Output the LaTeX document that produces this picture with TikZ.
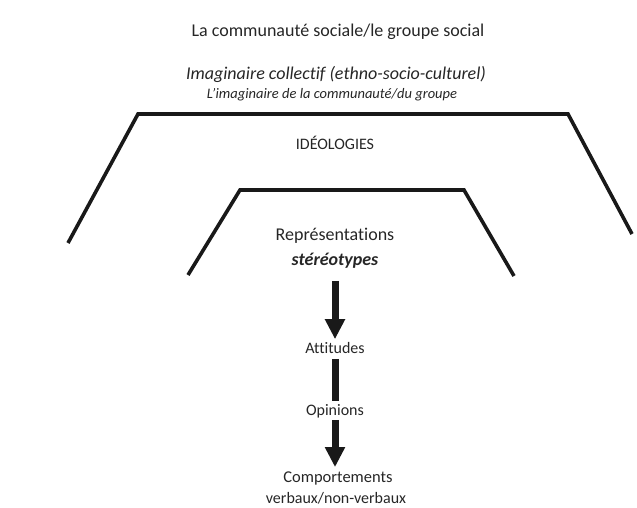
\documentclass[tikz,border=0pt]{standalone}
\usepackage{fontspec}
\setmainfont[Ligatures=NoCommon]{Carlito}
\usetikzlibrary{arrows.meta}

\begin{document}
\begin{tikzpicture}[x=1pt,y=-1pt]
  \tikzstyle{label}=[inner sep=0pt,text=black!85]
  \tikzstyle{wall}=[line width=3.6pt,black!90]
  \tikzstyle{roof}=[line width=4.6pt,black!90]
  \tikzstyle{bar}=[line width=7pt,black!90]
  \tikzstyle{flow}=[bar,-{Triangle[width=19pt,length=20pt]}]
  \useasboundingbox (0,0) rectangle (637,508);

  \node[label, font=\fontsize{18}{20}\selectfont] (communaute) at (338,32) {La communauté sociale/le groupe social};
  \node[label, font=\fontsize{18}{20}\selectfont\itshape] (imaginaire) at (336,74) {Imaginaire collectif (ethno-socio-culturel)};
  \node[label, font=\fontsize{14.5}{16}\selectfont\itshape] (groupe) at (332,95) {L’imaginaire de la communauté/du groupe};

  \coordinate (oTL) at (138,114);
  \coordinate (oTR) at (568,114);
  \coordinate (oBL) at (68,243);
  \coordinate (oBR) at (632,234);
  \draw[wall] (oBL) -- (oTL) -- (oTR) -- (oBR);
  \draw[roof] (oTL) -- (oTR);

  \node[label, font=\fontsize{16}{18}\selectfont] (ideologies) at (335,143) {IDÉOLOGIES};

  \coordinate (iTL) at (240,190);
  \coordinate (iTR) at (464,190);
  \coordinate (iBL) at (188,275);
  \coordinate (iBR) at (514,276);
  \draw[wall] (iBL) -- (iTL) -- (iTR) -- (iBR);
  \draw[roof] (iTL) -- (iTR);

  \node[label, font=\fontsize{18}{20}\selectfont] (representations) at (335,236) {Représentations};
  \node[label, font=\fontsize{18}{20}\selectfont\bfseries\itshape] (stereotypes) at (335,261) {stéréotypes};
  \node[label, font=\fontsize{16}{18}\selectfont] (attitudes) at (335,348) {Attitudes};
  \node[label, font=\fontsize{16}{18}\selectfont] (opinions) at (335,411) {Opinions};
  \node[label, font=\fontsize{16.5}{18}\selectfont] (comportements) at (338,478) {Comportements};
  \node[label, font=\fontsize{16}{18}\selectfont] (verbaux) at (336,498) {verbaux/non-verbaux};

  \draw[flow, shorten <=12pt, shorten >=3pt] (stereotypes.south) -- (attitudes.north);
  \draw[bar, shorten <=5pt, shorten >=3pt] (attitudes.south) -- (opinions.north);
  \draw[flow, shorten <=2pt, shorten >=4pt] (opinions.south) -- (opinions.south |- comportements.north);
\end{tikzpicture}
\end{document}
